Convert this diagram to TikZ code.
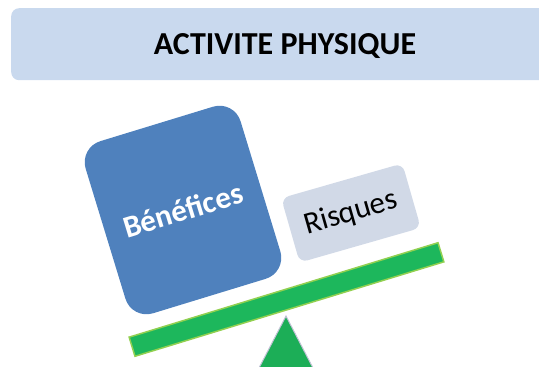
\documentclass[tikz,border=0pt]{standalone}
\usepackage{fontspec}
\setmainfont{Carlito}
\begin{document}
\begin{tikzpicture}[x=1pt,y=-1pt]
  \tikzstyle{boite}=[rounded corners=22pt,inner sep=0pt,transform shape]
  \definecolor{titrebleu}{HTML}{C9D9EE}
  \definecolor{benefbleu}{HTML}{4F81BD}
  \definecolor{risqgris}{HTML}{D1D9E7}
  \definecolor{vertplanche}{HTML}{1DB75C}
  \definecolor{vertbord}{HTML}{92D050}
  \useasboundingbox (0,0) rectangle (539,367);
  \node[rounded corners=8pt,fill=titrebleu,minimum width=549pt,minimum height=72pt,anchor=north west] (titre) at (11,8) {};
  \node (titre_txt) at (285,46) {\fontsize{32}{36}\selectfont\bfseries ACTIVITE PHYSIQUE};

  \node[boite,fill=benefbleu,text=white,minimum width=162pt,minimum height=180pt,rotate=17,
        font=\fontsize{31}{36}\selectfont\bfseries] (benefices) at (183,210) {Bénéfices};

  \node[boite,rounded corners=8pt,fill=risqgris,minimum width=126pt,minimum height=67pt,rotate=16,
        font=\fontsize{31}{36}\selectfont] (risques) at (351,213) {Risques};

  \node[fill=vertplanche,draw=vertbord,line width=1.5pt,minimum width=323pt,minimum height=20pt,rotate=17] (planche) at (286.5,299.5) {};
  \draw[fill=vertplanche!95!black,draw=blue!20!gray!40,line width=1pt] (286,316) -- (313,368) -- (259,368) -- cycle;
\end{tikzpicture}
\end{document}
